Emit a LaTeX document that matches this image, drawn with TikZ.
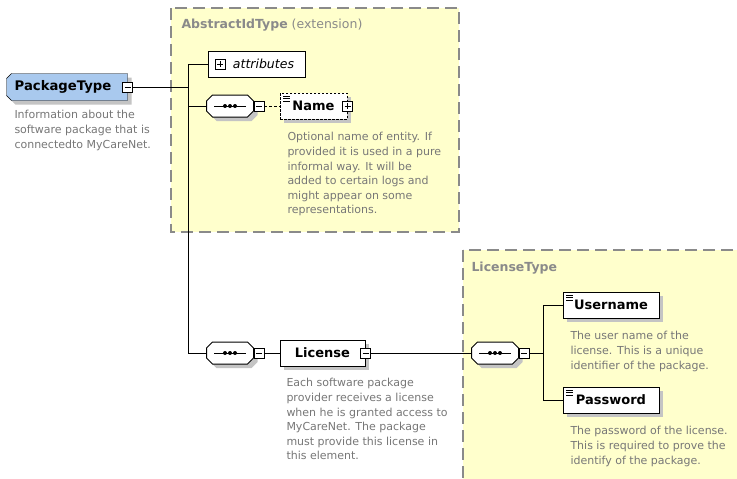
\documentclass[tikz,border=0pt]{standalone}
\usepackage{fontspec}
\setmainfont{DejaVu Sans}
\usetikzlibrary{shadows,backgrounds}
\definecolor{xsdyellow}{HTML}{FFFFCC}
\definecolor{xsdframe}{HTML}{8A8A8A}
\definecolor{xsdblue}{HTML}{A9C9EE}
\definecolor{xsdshade}{HTML}{C4C4C4}
\definecolor{xsdnote}{HTML}{777777}

\begin{document}
\begin{tikzpicture}[x=1pt,y=-1pt,line width=1pt,
  every node/.style={inner sep=0pt},
  typebox/.style={draw=xsdframe,fill=xsdyellow,line width=1.2pt,dash pattern=on 12pt off 6pt},
  typetitle/.style={anchor=west,text=xsdframe,font=\fontsize{12.5}{15}\selectfont},
  shade/.style={drop shadow={shadow xshift=4pt,shadow yshift=-4pt,fill=xsdshade,opacity=1}},
  elem/.style={draw,fill=white,minimum height=26pt,shade,font=\fontsize{13}{15}\selectfont\bfseries},
  optelem/.style={elem,dash pattern=on 2.5pt off 1.5pt},
  simple/.style={path picture={\foreach \d in {3,5.5,8}
      \draw[line width=0.8pt,solid] ([xshift=3pt,yshift=-\d pt]path picture bounding box.north west) -- ++(7,0);}},
  pkgbox/.style={minimum width=120pt,minimum height=26pt,font=\fontsize{13.2}{15}\selectfont\bfseries},
  seqbox/.style={minimum width=46pt,minimum height=21pt},
  minusbox/.style={draw,fill=white,minimum size=10pt,line width=0.8pt,solid,
    path picture={\draw[line width=0.8pt] ([xshift=2pt]path picture bounding box.west) -- ([xshift=-2pt]path picture bounding box.east);}},
  plusbox/.style={draw,fill=white,minimum size=10pt,line width=0.8pt,solid,
    path picture={\draw[line width=0.8pt] ([xshift=2pt]path picture bounding box.west) -- ([xshift=-2pt]path picture bounding box.east);
      \draw[line width=0.8pt] ([yshift=-2pt]path picture bounding box.north) -- ([yshift=2pt]path picture bounding box.south);}},
  attrbox/.style={draw,fill=white,minimum width=97pt,minimum height=26pt,font=\fontsize{12.5}{15}\selectfont},
  note/.style={anchor=north west,align=left,text=xsdnote,font=\fontsize{11}{14.6}\selectfont},
]
\useasboundingbox (0,0) rectangle (737,479);
\begin{scope}[on background layer]
\fill[white] (0,0) rectangle (737,479);
% complex types
\draw[typebox] (171,8) rectangle (459,232);
\draw[typebox] (463,250) rectangle (745,490);
\end{scope}
\node[typetitle] (absttitle) at (181,25) {\textbf{AbstractIdType} (extension)};
\node[typetitle] (lictitle) at (471,268) {\textbf{LicenseType}};

% root element
\node[pkgbox] (pkg) at (67,87) {PackageType\hspace*{8pt}};
\begin{scope}[on background layer]
\draw[fill=xsdblue,shade] ([xshift=5pt]pkg.north west) -- (pkg.north east) -- (pkg.south east)
  -- ([xshift=5pt]pkg.south west) -- ([yshift=5pt]pkg.south west) -- ([yshift=-5pt]pkg.north west) -- cycle;
\end{scope}
\node[minusbox] (pkgm) at (pkg.east) {};
\node[note] (pkgdoc) at (14,110) {Information about the\\software package that is\\connectedto MyCareNet.};

% sequence compositors
\node[seqbox] (seq1) at (230,106) {};
\node[seqbox] (seq2) at (230,353) {};
\node[seqbox] (seq3) at (495,353) {};
\foreach \s in {seq1,seq2,seq3} {
  \draw[fill=white,shade] ([xshift=6pt]\s.north west) -- ([xshift=-6pt]\s.north east) -- ([yshift=-6pt]\s.north east)
    -- ([yshift=6pt]\s.south east) -- ([xshift=-6pt]\s.south east) -- ([xshift=6pt]\s.south west)
    -- ([yshift=6pt]\s.south west) -- ([yshift=-6pt]\s.north west) -- cycle;
  \draw ([xshift=-16pt]\s.center) -- ([xshift=16pt]\s.center);
  \foreach \d in {-5,0,5}
    \fill ([xshift=\d pt]\s.center) circle (2pt);
}
\node[minusbox,anchor=west] (seq1m) at (seq1.east) {};
\node[minusbox,anchor=west] (seq2m) at (seq2.east) {};
\node[minusbox,anchor=west] (seq3m) at (seq3.east) {};

% AbstractIdType content
\node[attrbox] (attr) at (256.5,64) {\hspace*{14pt}\textit{attributes}};
\node[plusbox] (attrp) at (220,64) {};
\node[optelem,simple,minimum width=67pt] (nm) at (313.5,106) {Name};
\node[plusbox] (nmp) at (nm.east) {};
\node[note] (nmdoc) at (287,132) {Optional name of entity. If\\provided it is used in a pure\\informal way. It will be\\added to certain logs and\\might appear on some\\representations.};

% License
\node[elem,minimum width=85pt] (lic) at (322.5,353) {License};
\node[minusbox] (licm) at (lic.east) {};
\node[note] (licdoc) at (286,378) {Each software package\\provider receives a license\\when he is granted access to\\MyCareNet. The package\\must provide this license in\\this element.};

% LicenseType content
\node[elem,simple,minimum width=96pt] (user) at (611,305) {Username};
\node[note] (userdoc) at (570,331) {The user name of the\\license. This is a unique\\identifier of the package.};
\node[elem,simple,minimum width=96pt] (pass) at (611,400) {Password};
\node[note] (passdoc) at (570,426) {The password of the license.\\This is required to prove the\\identify of the package.};

% connectors
\coordinate (spine) at (188,87);
\coordinate (fork) at (543,353);
\draw (pkgm.east) -- (spine);
\draw (attr.west) -| (seq2.west -| spine) -- (seq2.west);
\draw (seq1.west) -- (seq1.west -| spine);
\draw[dash pattern=on 3pt off 2pt] (seq1m.east) -- (nm.west);
\draw (seq2m.east) -- (lic.west);
\draw (licm.east) -- (seq3.west);
\draw (seq3m.east) -- (fork);
\draw (user.west) -| (fork);
\draw (pass.west) -| (fork);
\end{tikzpicture}
\end{document}
